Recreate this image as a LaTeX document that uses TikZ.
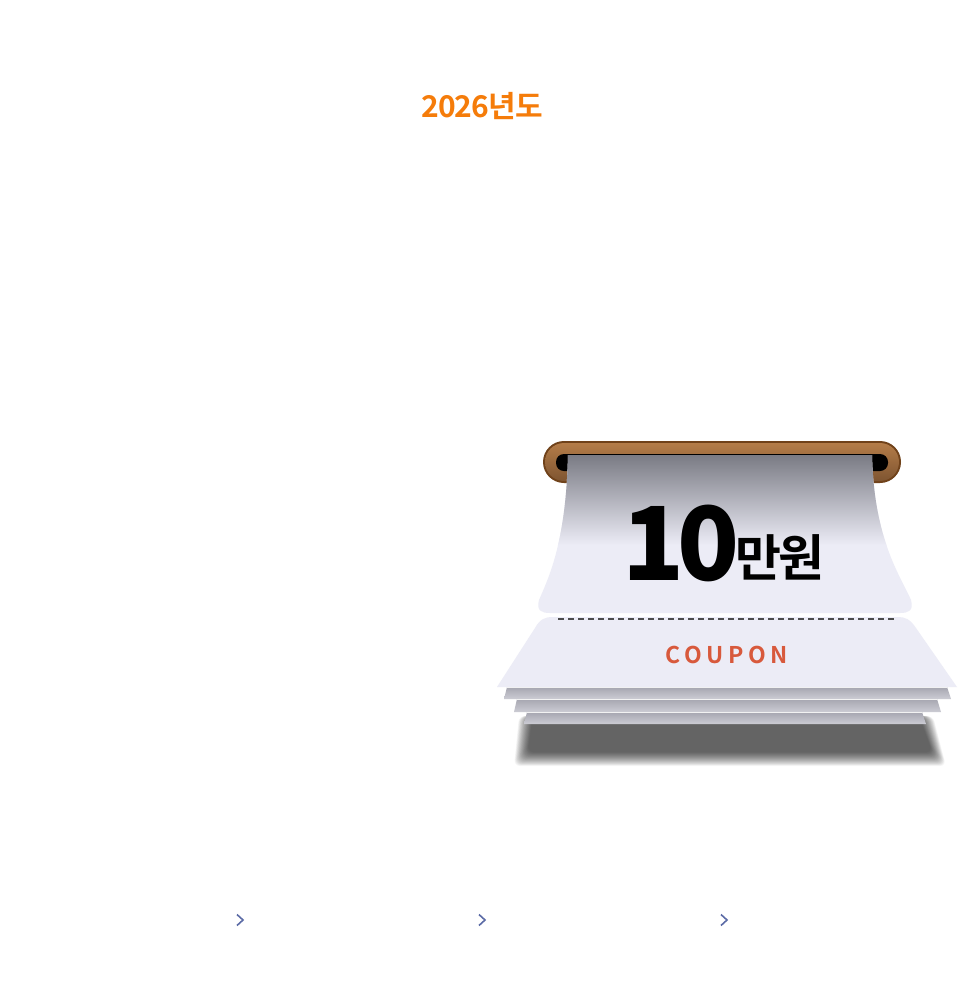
\documentclass[tikz,border=0pt]{standalone}
\usepackage{fontspec}
\usepackage{tikz}
\usetikzlibrary{positioning}
\newfontfamily\krbold{Noto Sans CJK KR Bold}
\newfontfamily\krblack{Noto Sans CJK KR Black}
\definecolor{yearorange}{RGB}{245,124,10}
\definecolor{paper}{RGB}{236,236,246}
\definecolor{papertop}{RGB}{122,123,132}
\definecolor{stripdark}{RGB}{166,166,176}
\definecolor{striplight}{RGB}{204,204,212}
\definecolor{rodlight}{RGB}{180,124,72}
\definecolor{roddark}{RGB}{112,66,26}
\definecolor{couponred}{RGB}{216,89,60}
\definecolor{chevblue}{RGB}{91,107,166}

\begin{document}
\begin{tikzpicture}[x=1pt, y=-1pt,
      strip/.style={top color=stripdark, bottom color=striplight},
      chev/.style={draw=chevblue, line width=1.6pt, line join=miter},
      dashline/.style={draw=black!70, line width=1.3pt, dash pattern=on 6pt off 4pt}]
      \useasboundingbox[fill=white] (0, 0) rectangle (962, 999);
      \node (year) at (482, 106) {\fontsize{30}{30}\krbold\addfontfeature{LetterSpace=-3}\color{yearorange}2026년도};

      \foreach \d in {14,13.4,...,0}
            \fill[black, opacity=.035, rounded corners=6pt] (533-\d, 716) -- (919+\d, 716)
                  -- (932+\d, 752+\d) -- (528-\d, 752+\d) -- cycle;
      \shade[strip] (527, 712) -- (922, 712) -- (926, 724) -- (524, 724) -- cycle;
      \shade[strip] (517, 699) -- (937, 699) -- (941, 712) -- (514, 712) -- cycle;
      \shade[strip] (507, 687) -- (947, 687) -- (951, 699) -- (504, 699) -- cycle;
      \draw[white!90!gray, line width=1pt] (527, 712.5) -- (922, 712.5) (517, 699.5) -- (937, 699.5) (507, 687.5) -- (947, 687.5);
      \fill[paper] (497, 687) -- (535, 628) .. controls (540, 619) and (545, 617) .. (553, 617)
            -- (898, 617) .. controls (905, 617) and (910, 619) .. (916, 628) -- (957, 687) -- cycle;

      \fill[roddark, rounded corners=21pt] (543, 441) rectangle (901, 483);
      \shade[top color=rodlight, bottom color=roddark!90, rounded corners=19pt] (545, 443) rectangle (899, 481);
      \fill[black, rounded corners=8pt] (556, 454) rectangle (888, 471);

      \begin{scope}
            \clip (568, 455) -- (872, 455) .. controls (874, 540) and (900, 575) .. (911, 600)
                  .. controls (914, 611) and (908, 613) .. (900, 613) -- (550, 613)
                  .. controls (542, 613) and (536, 611) .. (539, 600) .. controls (550, 575) and (566, 540) .. (568, 455) -- cycle;
            \fill[paper] (530, 450) rectangle (920, 620);
            \shade[top color=papertop, bottom color=paper] (530, 455) rectangle (920, 545);
      \end{scope}
      \draw[dashline] (558, 619) -- (894, 619);

      \node (ten) [inner sep=0pt] at (681, 543) {\fontsize{102}{102}\krblack\addfontfeature{LetterSpace=-8}10};
      \node (won) [inner sep=0pt] at (780, 557) {\fontsize{50}{50}\krbold\addfontfeature{LetterSpace=-6}만원};
      \node (coupon) [inner sep=0pt] at (727, 654.5) {\fontsize{23}{23}\krbold\addfontfeature{LetterSpace=20}\color{couponred}COUPON};

      \foreach \cx [count=\k] in {237, 479, 721}
            \draw[chev] (\cx, 914.5) coordinate (c\k) -- ++(6, 5.5) -- ++(-6, 5.5);
\end{tikzpicture}
\end{document}
